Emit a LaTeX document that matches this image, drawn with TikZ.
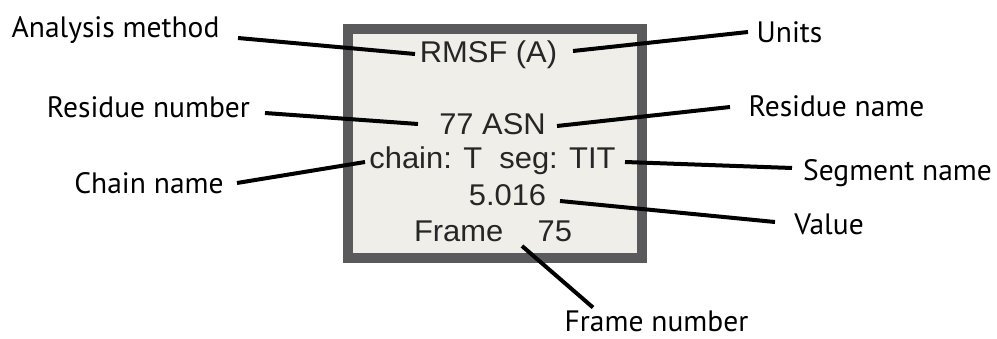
\documentclass[tikz,border=0pt]{standalone}
\usepackage{fontspec}
\setmainfont{PT Sans}
\newfontfamily\pixfont[FakeStretch=1.03]{Liberation Sans}
\usepackage{tikz}
\definecolor{panelgrey}{HTML}{5A5A5C}
\definecolor{panelfill}{HTML}{EFEEE8}
\definecolor{readtext}{HTML}{262626}

\begin{document}
\begin{tikzpicture}[x=1pt, y=-1pt,
        tag/.style={inner sep=0pt, outer sep=0pt, font=\fontsize{29.5}{32}\selectfont},
        readout/.style={inner sep=0pt, outer sep=0pt, text=readtext, font=\pixfont\fontsize{30}{32}\selectfont},
        callout/.style={line width=4pt, black}
    ]
    \useasboundingbox (0,0) rectangle (997,339);
    % the readout panel
    \fill[panelfill] (343,24) rectangle (647,263);
    \draw[panelgrey, line width=10pt] (348,29) rectangle (642,258);
    \node[readout] (rmsf) at (488.5,55) {RMSF (A)};
    \node[readout] (asn) at (492.5,124) {77 ASN};
    \node[readout] (chainseg) at (492.5,161) {chain: T\ \ seg: TIT};
    \node[readout] (val) at (507.5,195) {5.016};
    \node[readout] (frame) at (493,231) {Frame\ \ \ \ 75};
    % labels
    \node[tag] (method) at (115.5,30) {Analysis method};
    \node[tag] (resnum) at (148.5,107) {Residue number};
    \node[tag] (chain) at (149,183) {Chain name};
    \node[tag] (units) at (789.5,32) {Units};
    \node[tag] (resname) at (836.5,106) {Residue name};
    \node[tag] (segname) at (897.5,173) {Segment name};
    \node[tag] (value) at (829,224) {Value};
    \node[tag] (frnum) at (656.5,321.5) {Frame number};
    % connectors
    \draw[callout] ([shift={(122.5,8)}]method.center) -- ([shift={(-73.5,-1)}]rmsf.center);
    \draw[callout] ([shift={(116.5,6)}]resnum.center) -- ([shift={(-74.5,0)}]asn.center);
    \draw[callout] ([shift={(88,0)}]chain.center) -- ([shift={(-127.5,1)}]chainseg.center);
    \draw[callout] ([shift={(84.5,-4)}]rmsf.center) -- ([shift={(-41.5,0)}]units.center);
    \draw[callout] ([shift={(64.5,2)}]asn.center) -- ([shift={(-106.5,1)}]resname.center);
    \draw[callout] ([shift={(132.5,1)}]chainseg.center) -- ([shift={(-105.5,-5)}]segname.center);
    \draw[callout] ([shift={(52.5,6)}]val.center) -- ([shift={(-54,-2)}]value.center);
    \draw[callout] ([shift={(29,15)}]frame.center) -- ([shift={(-63.5,-14)}]frnum.center);
\end{tikzpicture}
\end{document}
